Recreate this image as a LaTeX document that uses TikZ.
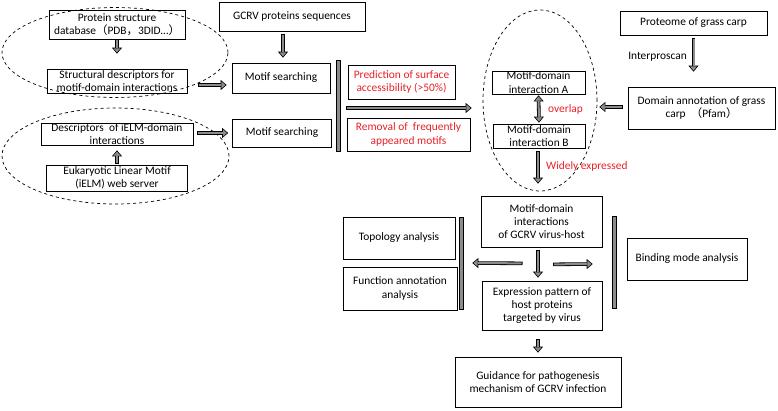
\documentclass[tikz,border=0pt]{standalone}
\usepackage{fontspec}
\setmainfont{Carlito}
\newfontfamily\cjk{Noto Sans CJK SC}
\usetikzlibrary{arrows.meta,calc,shapes.geometric}
\definecolor{redtxt}{RGB}{232,32,38}
\definecolor{shaft}{RGB}{140,140,140}
\tikzset{
  box/.style={draw, line width=0.7pt, align=center, inner sep=0pt, fill=white,
    font=\fontsize{11.4}{13.2}\selectfont},
  redbox/.style={box, text=redtxt},
  bar/.style={draw, line width=0.6pt, fill=shaft, inner sep=0pt, minimum width=4pt},
  ell/.style={draw, dashed, line width=0.7pt, ellipse, inner sep=0pt},
  bo/.style={line width=3.6pt, draw=black, -{Triangle[length=6pt,width=10pt,line width=0.6pt,fill=shaft]}},
  bi/.style={line width=2pt, draw=shaft, shorten >=5.4pt, shorten <=0.8pt},
  dbo/.style={line width=3.6pt, draw=black, {Triangle[length=6pt,width=10pt,line width=0.6pt,fill=shaft]}-{Triangle[length=6pt,width=10pt,line width=0.6pt,fill=shaft]}},
  dbi/.style={line width=2pt, draw=shaft, shorten >=5.4pt, shorten <=5.4pt},
  lbl/.style={inner sep=0pt, font=\fontsize{11.4}{13.2}\selectfont},
}
\newcommand\barrow[2]{\draw[bo] #1 -- #2; \draw[bi] #1 -- #2;}
\newcommand\dbarrow[2]{\draw[dbo] #1 -- #2; \draw[dbi] #1 -- #2;}
\begin{document}
\begin{tikzpicture}[x=1pt,y=-1pt]
\useasboundingbox (0,0) rectangle (778,410);
% left column
\node[box, minimum width=136pt, minimum height=29pt] (psd) at (117,24.5) {Protein structure\\database{\cjk（}PDB{\cjk，}3DID…{\cjk）}};
\node[box, minimum width=140pt, minimum height=24pt] (sd) at (117,81) {Structural descriptors for\\motif-domain interactions};
\node[box, minimum width=152pt, minimum height=22pt] (de) at (117,134) {Descriptors\ \ of iELM-domain\\interactions};
\node[box, minimum width=141pt, minimum height=26pt] (elm) at (117,178) {Eukaryotic Linear Motif\\(iELM) web server};
% middle
\node[box, minimum width=146pt, minimum height=29pt] (gcrv) at (292,16.5) {GCRV proteins sequences};
\node[box, minimum width=98pt, minimum height=30pt] (ms1) at (281,78) {Motif searching};
\node[box, minimum width=99pt, minimum height=28pt] (ms2) at (282,133) {Motif searching};
\node[bar, minimum height=91pt] (bar1) at (338,105.5) {};
\node[redbox, minimum width=107pt, minimum height=34pt] (pred) at (401.5,82) {Prediction of surface\\accessibility (>50\%)};
\node[redbox, minimum width=123pt, minimum height=33pt] (rem) at (408.5,134.5) {Removal of\ \ frequently\\appeared motifs};
% right top
\node[box, minimum width=93pt, minimum height=23pt] (mdA) at (538.5,82.5) {Motif-domain\\interaction A};
\node[box, minimum width=92pt, minimum height=24pt] (mdB) at (539,136) {Motif-domain\\interaction B};
\node[ell, minimum width=114pt, minimum height=181pt] (ell3) at (540,100.5) {};
\node[box, minimum width=147pt, minimum height=24pt] (prot) at (693.5,23) {Proteome of grass carp};
\node[box, minimum width=147pt, minimum height=42pt] (dom) at (701.5,108) {Domain annotation of grass\\carp\ \ {\cjk（}Pfam{\cjk）}};
\node[lbl, anchor=east] (ipr) at (687,57) {Interproscan};
\node[lbl, anchor=west, text=redtxt] (ovl) at (548,109) {overlap};
\node[lbl, anchor=west, text=redtxt] (wide) at (546,166) {Widely expressed};
% lower part
\node[box, minimum width=121pt, minimum height=51pt] (mdi) at (541.5,221.5) {Motif-domain\\interactions\\of GCRV virus-host};
\node[bar, minimum height=92pt] (bar2) at (614,262) {};
\node[bar, minimum height=92pt] (bar3) at (461,263) {};
\node[box, minimum width=120pt, minimum height=42pt] (bind) at (687,259) {Binding mode analysis};
\node[box, minimum width=112pt, minimum height=42pt] (topo) at (399,238) {Topology analysis};
\node[box, minimum width=114pt, minimum height=43pt] (func) at (400,288.5) {Function annotation\\analysis};
\node[box, minimum width=120pt, minimum height=49pt] (expr) at (542,305.5) {Expression pattern of\\host proteins\\targeted by virus};
\node[box, minimum width=166pt, minimum height=50pt] (guid) at (538,382) {Guidance for pathogenesis\\mechanism of GCRV infection};
% ellipses
\node[ell, minimum width=226pt, minimum height=90pt] (ell1) at (115,52.5) {};
\node[ell, minimum width=227pt, minimum height=96pt] (ell2) at (115.5,156) {};
% arrows
\barrow{(psd.south)}{($(sd.north)+(0,-15)$)}
\barrow{($(elm.north)+(0,-1)$)}{($(de.south)+(0,5)$)}
\barrow{($(sd.east)+(11,4)$)}{($(ms1.west)+(-5,7)$)}
\barrow{($(de.east)+(4,-1)$)}{($(ms2.west)+(-4,0)$)}
\barrow{($(gcrv.south -| ms1.north)+(2,3)$)}{($(ms1.north)+(2,-5)$)}
\barrow{($(bar1.east)+(6,2.5)$)}{($(ell3.west)+(-11,7.5)$)}
\dbarrow{($(mdA.south)+(0,1)$)}{($(mdB.north)+(0,-1)$)}
\barrow{($(mdB.south)+(-1,3)$)}{($(mdi.north)+(-3.5,-12)$)}
\barrow{($(prot.south)+(0,3)$)}{($(dom.north -| prot.south)+(0,-15)$)}
\barrow{($(dom.west)+(-5,-1)$)}{($(ell3.east)+(2,6.5)$)}
\barrow{($(mdi.south)+(-3.5,3)$)}{($(expr.north)+(-4,-3)$)}
\barrow{($(mdi.south)+(-19,16)$)}{($(bar3.east)+(9,0)$)}
\barrow{($(mdi.south)+(11.5,17)$)}{($(bar2.west)+(-19,2)$)}
\barrow{($(expr.south)+(-4,9)$)}{($(guid.north)+(0,-4)$)}
\end{tikzpicture}
\end{document}
